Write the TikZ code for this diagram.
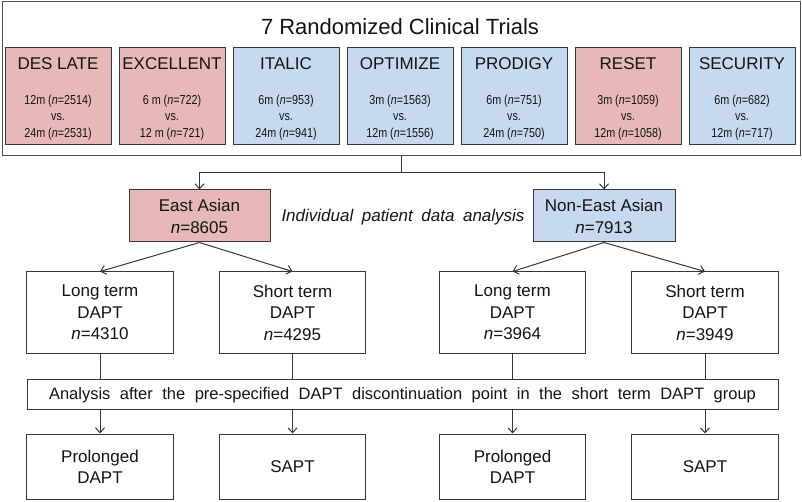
\documentclass[tikz,border=0pt]{standalone}
\usepackage{fontspec}
\setmainfont{Liberation Sans}
\newfontfamily\narrowfont[FakeStretch=0.83]{Liberation Sans}
\usetikzlibrary{arrows.meta}
\definecolor{pinkfill}{RGB}{230,184,183}
\definecolor{bluefill}{RGB}{198,217,240}
\definecolor{edgegray}{RGB}{55,55,55}
\definecolor{outergray}{RGB}{80,80,80}
\definecolor{txt}{RGB}{20,20,20}
\begin{document}
\begin{tikzpicture}[x=1pt,y=-1pt,
  every node/.style={text=txt},
  boxbase/.style={draw=edgegray, line width=1pt, inner sep=0pt, align=center},
  trialbox/.style={boxbase, minimum width=106pt, minimum height=97pt},
  groupbox/.style={boxbase, minimum height=52pt, font=\fontsize{17}{22}\selectfont},
  armbox/.style={boxbase, fill=white, minimum width=146.5pt, minimum height=81pt, font=\fontsize{17}{21.5}\selectfont},
  endbox/.style={boxbase, fill=white, minimum width=146.5pt, minimum height=65pt, font=\fontsize{17}{21}\selectfont},
  tname/.style={anchor=base, inner sep=0pt, font=\fontsize{17}{20}\selectfont},
  tdet/.style={anchor=base, inner sep=0pt, font=\narrowfont\fontsize{13}{15}\selectfont},
  arr/.style={draw=edgegray, line width=1pt, -{Straight Barb[length=5pt,width=9pt]}},
  conn/.style={draw=edgegray, line width=1pt}
]
\useasboundingbox (0,0) rectangle (802,502);

% outer box and title
\node[draw=outergray, line width=1pt, minimum width=798pt, minimum height=154pt, inner sep=0pt] (trials) at (401,79) {};
\node[anchor=base, inner sep=0pt, font=\fontsize{22}{26}\selectfont] (title) at (400,34.5) {7 Randomized Clinical Trials};

% trial boxes
\foreach \i/\nm/\a/\b/\col in {
  1/DES LATE/12m (\textit{n}=2514)/24m (\textit{n}=2531)/pinkfill,
  2/EXCELLENT/6 m (\textit{n}=722)/12 m (\textit{n}=721)/pinkfill,
  3/ITALIC/6m (\textit{n}=953)/24m (\textit{n}=941)/bluefill,
  4/OPTIMIZE/3m (\textit{n}=1563)/12m (\textit{n}=1556)/bluefill,
  5/PRODIGY/6m (\textit{n}=751)/24m (\textit{n}=750)/bluefill,
  6/RESET/3m (\textit{n}=1059)/12m (\textit{n}=1058)/pinkfill,
  7/SECURITY/6m (\textit{n}=682)/12m (\textit{n}=717)/bluefill}{
  \pgfmathsetmacro{\cx}{58+114*(\i-1)}
  \node[trialbox, fill=\col] (t\i) at (\cx,96.5) {};
  \node[tname] (tn\i) at (\cx,70) {\nm};
  \node[tdet] (ta\i) at (\cx,104.5) {\a};
  \node[tdet] (tv\i) at (\cx,120.5) {vs.};
  \node[tdet] (tb\i) at (\cx,137.5) {\b};
}

% population boxes
\node[groupbox, fill=pinkfill, minimum width=141pt] (ea) at (199.5,216) {East Asian\\\textit{n}=8605};
\node[groupbox, fill=bluefill, minimum width=142pt] (nea) at (604,216) {Non-East Asian\\\textit{n}=7913};
\node[inner sep=0pt, font=\fontsize{17}{20}\selectfont] (ipd) at (403,217) {\makebox[243pt][s]{\itshape Individual patient data analysis}};

\coordinate (j) at (401,173);
\draw[conn] (trials.south) -- (j);
\draw[arr] (j) -| (ea.north);
\draw[arr] (j) -| (nea.north);

% arm boxes
\node[armbox] (lt1) at (100,312.5) {Long term\\DAPT\\\textit{n}=4310};
\node[armbox] (st1) at (292.5,312.5) {Short term\\DAPT\\\textit{n}=4295};
\node[armbox] (lt2) at (512.5,312.5) {Long term\\DAPT\\\textit{n}=3964};
\node[armbox] (st2) at (705,312.5) {Short term\\DAPT\\\textit{n}=3949};

\draw[arr] (ea.south) -- (lt1.north);
\draw[arr] (ea.south) -- (st1.north);
\draw[arr] (nea.south) -- (lt2.north);
\draw[arr] (nea.south) -- (st2.north);

% analysis box
\node[boxbase, minimum width=751pt, minimum height=30pt, text height=11.8pt, text depth=0pt, font=\fontsize{16.5}{20}\selectfont] (an) at (402.5,394)
  {\makebox[707pt][s]{Analysis after the pre-specified DAPT discontinuation point in the short term DAPT group}};

% end boxes
\node[endbox] (pd1) at (100,466.5) {Prolonged\\DAPT};
\node[endbox] (sa1) at (292.5,466.5) {SAPT};
\node[endbox] (pd2) at (512.5,466.5) {Prolonged\\DAPT};
\node[endbox] (sa2) at (705,466.5) {SAPT};

\foreach \u/\v in {lt1/pd1, st1/sa1, lt2/pd2, st2/sa2}{
  \draw[conn] (\u.south) -- (\u.south |- an.north);
  \draw[arr] (\v.north |- an.south) -- (\v.north);
}
\end{tikzpicture}
\end{document}
